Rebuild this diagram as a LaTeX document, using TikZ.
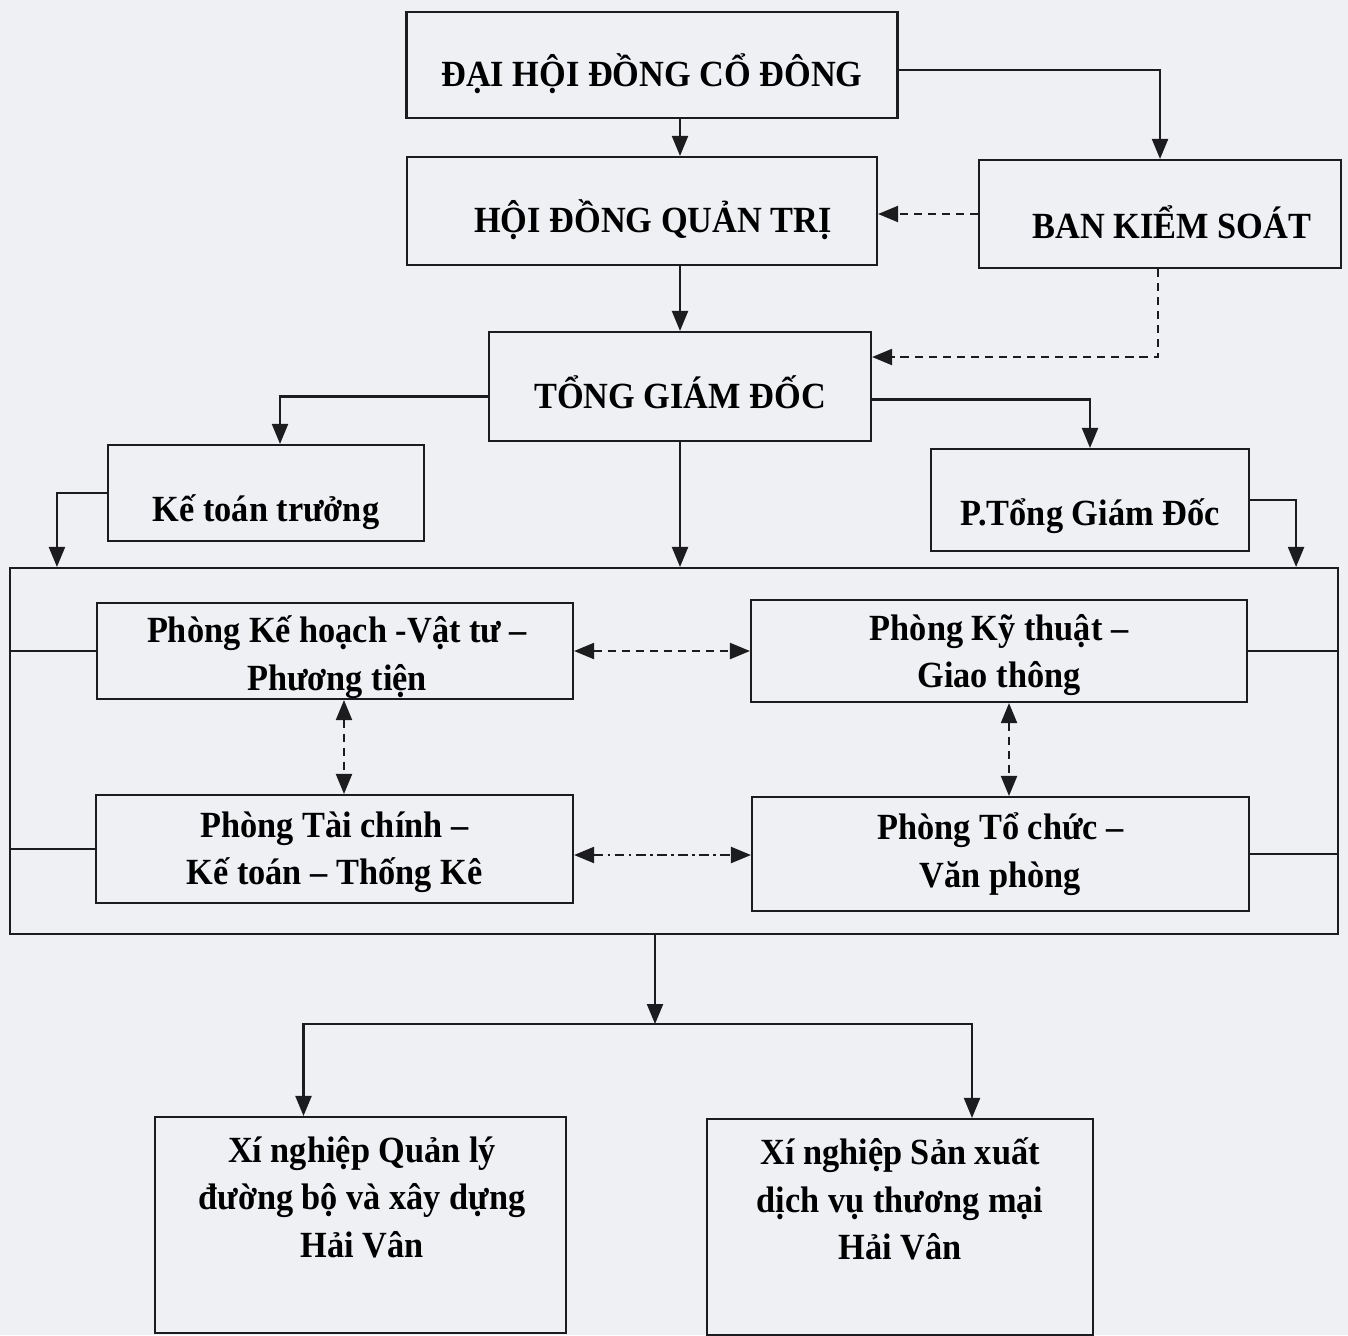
\documentclass[tikz,border=0pt]{standalone}
\usepackage{fontspec}
\setmainfont{Liberation Serif}[FakeStretch=0.93]
\usetikzlibrary{arrows.meta, positioning, calc}
\definecolor{scanbg}{RGB}{239,240,244}
\definecolor{inkline}{RGB}{28,28,30}
\tikzset{
    box/.style={rectangle, draw=inkline, line width=0.6pt, inner sep=0pt},
    boxtext/.style={inner sep=0pt, align=center, font=\fontsize{10.5}{13.5}\selectfont\bfseries},
    link/.style={line width=0.6pt, draw=inkline},
    arrow/.style={link, -{Triangle[length=2mm, width=1.6mm]}},
    dashedarrow/.style={arrow, dash pattern=on 2.3pt off 1.7pt},
    dashedboth/.style={link, {Triangle[length=2mm, width=1.6mm]}-{Triangle[length=2mm, width=1.6mm]}, dash pattern=on 2.3pt off 1.7pt},
    dashdotboth/.style={link, {Triangle[length=2mm, width=1.6mm]}-{Triangle[length=2mm, width=1.6mm]}, dash pattern=on 2.8pt off 1.2pt on 0.8pt off 1.2pt}
}

\begin{document}
\begin{tikzpicture}[x=0.1mm, y=-0.1mm]
    \useasboundingbox (0,0) rectangle (1348,1335);
    \fill[scanbg] (0,0) rectangle (1348,1335);

    % cap tren
    \node[box, minimum width=49.1mm, minimum height=10.6mm] (dh) at (652,65) {};
    \node[box, minimum width=47mm, minimum height=10.8mm] (hdqt) at (642,211) {};
    \node[box, minimum width=36.2mm, minimum height=10.8mm] (bks) at (1160,214) {};
    \node[box, minimum width=38.2mm, minimum height=10.9mm] (tgd) at (680,386.5) {};
    \node[box, minimum width=31.6mm, minimum height=9.6mm] (ktt) at (266,493) {};
    \node[box, minimum width=31.8mm, minimum height=10.2mm] (ptgd) at (1090,500) {};
    \node[boxtext] (dht) at ([yshift=-0.9mm]dh.center) {ĐẠI HỘI ĐỒNG CỔ ĐÔNG};
    \node[boxtext] (hdqtt) at ([xshift=1.1mm, yshift=-0.9mm]hdqt.center) {HỘI ĐỒNG QUẢN TRỊ};
    \node[boxtext] (bkst) at ([xshift=1.2mm, yshift=-0.8mm]bks.center) {BAN KIỂM SOÁT};
    \node[boxtext] (tgdt) at ([yshift=-0.6mm]tgd.center) {TỔNG GIÁM ĐỐC};
    \node[boxtext] (kttt) at ([yshift=-1.9mm]ktt.center) {Kế toán trưởng};
    \node[boxtext] (ptgdt) at ([yshift=-1.6mm]ptgd.center) {P.Tổng Giám Đốc};

    % khoi phong ban
    \node[box, minimum width=132.8mm, minimum height=36.6mm] (khoi) at (674,751) {};
    \node[box, minimum width=47.6mm, minimum height=9.6mm] (p1) at (335,651) {};
    \node[box, minimum width=49.6mm, minimum height=10.2mm] (p2) at (999,651) {};
    \node[box, minimum width=47.7mm, minimum height=10.8mm] (p3) at (334.5,849) {};
    \node[box, minimum width=49.7mm, minimum height=11.4mm] (p4) at (1000.5,854) {};
    \node[boxtext] (p1t) at ([xshift=0.2mm, yshift=-0.6mm]p1.center) {Phòng Kế hoạch -Vật tư –\\Phương tiện};
    \node[boxtext] (p2t) at ([yshift=-0.4mm]p2.center) {Phòng Kỹ thuật –\\Giao thông};
    \node[boxtext] (p3t) at ([yshift=-0.3mm]p3.center) {Phòng Tài chính –\\Kế toán – Thống Kê};
    \node[boxtext] (p4t) at (p4.center) {Phòng Tổ chức –\\Văn phòng};

    % xi nghiep
    \node[box, minimum width=41.1mm, minimum height=21.6mm] (xn1) at (360.5,1225) {};
    \node[box, minimum width=38.6mm, minimum height=21.6mm] (xn2) at (900,1227) {};
    \node[boxtext] (xn1t) at (362,1197) {Xí nghiệp Quản lý\\đường bộ và xây dựng\\Hải Vân};
    \node[boxtext] (xn2t) at (900,1199) {Xí nghiệp Sản xuất\\dịch vụ thương mại\\Hải Vân};

    \draw[arrow] (dh.south -| tgd) -- (hdqt.north -| tgd);
    \draw[arrow] ([yshift=-0.5mm]dh.east) -| (bks.north);
    \draw[dashedarrow] (bks.west) -- (bks.west -| hdqt.east);
    \coordinate (ksl) at (1158,357);
    \draw[dashedarrow] (bks.south -| ksl) |- (tgd.east |- ksl);
    \draw[arrow] (hdqt.south -| tgd) -- (tgd.north);
    \draw[arrow] ([yshift=-1mm]tgd.west) -| ([xshift=1.4mm]ktt.north);
    \draw[arrow] ([yshift=-1.3mm]tgd.east) -| (ptgd.north);
    \draw[arrow] (tgd.south) -- (tgd.south |- khoi.north);
    \draw[arrow] (ktt.west) -| ([xshift=4.8mm]khoi.north west);
    \draw[arrow] (ptgd.east) -| ([xshift=-4.3mm]khoi.north east);

    \draw[link] (khoi.west |- p1) -- (p1.west);
    \draw[link] (khoi.west |- p3) -- (p3.west);
    \draw[link] (p2.east) -- (p2.east -| khoi.east);
    \draw[link] (p4.east) -- (p4.east -| khoi.east);
    \draw[dashedboth] (p1.east) -- (p1.east -| p2.west);
    \draw[dashedboth] ([xshift=0.9mm]p1.south) -- ([xshift=0.9mm]p1.south |- p3.north);
    \draw[dashedboth] ([xshift=1mm]p2.south) -- ([xshift=1mm]p2.south |- p4.north);
    \draw[dashdotboth] ([yshift=-0.6mm]p3.east) -- ([yshift=-0.6mm]p3.east -| p4.west);

    \coordinate (nhanh) at (655,1024);
    \draw[arrow] (khoi.south -| nhanh) -- (nhanh);
    \draw[arrow] (nhanh) -| ([xshift=-5.7mm]xn1.north);
    \draw[arrow] (nhanh) -| ([xshift=7.2mm]xn2.north);
\end{tikzpicture}
\end{document}
